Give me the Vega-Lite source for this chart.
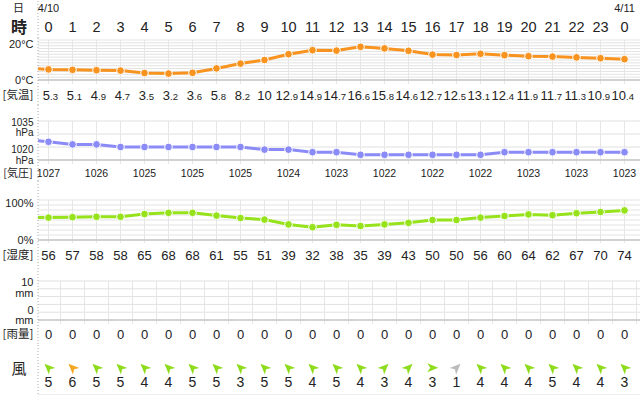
{
  "$schema": "https://vega.github.io/schema/vega-lite/v6.json",
  "padding": 0,
  "background": "white",
  "columns": 2,
  "spacing": 0,
  "bounds": "flush",
  "config": {"view": {"stroke": null}, "text": {"color": "#222", "font": "Liberation Sans"}},
  "resolve": {"scale": {"x": "independent", "y": "independent", "color": "independent"}},
  "datasets": {
    "wx": [
      {"h": -1, "temp": 6.0, "pres": 1028, "hum": 56},
      {"h": 0, "temp": 5.3, "pres": 1027, "hum": 56, "rain": 0, "wdir": 315, "wspd": 5},
      {"h": 1, "temp": 5.1, "pres": 1026, "hum": 57, "rain": 0, "wdir": 315, "wspd": 6},
      {"h": 2, "temp": 4.9, "pres": 1026, "hum": 58, "rain": 0, "wdir": 315, "wspd": 5},
      {"h": 3, "temp": 4.7, "pres": 1025, "hum": 58, "rain": 0, "wdir": 315, "wspd": 5},
      {"h": 4, "temp": 3.5, "pres": 1025, "hum": 65, "rain": 0, "wdir": 315, "wspd": 4},
      {"h": 5, "temp": 3.2, "pres": 1025, "hum": 68, "rain": 0, "wdir": 315, "wspd": 4},
      {"h": 6, "temp": 3.6, "pres": 1025, "hum": 68, "rain": 0, "wdir": 315, "wspd": 5},
      {"h": 7, "temp": 5.8, "pres": 1025, "hum": 61, "rain": 0, "wdir": 315, "wspd": 5},
      {"h": 8, "temp": 8.2, "pres": 1025, "hum": 55, "rain": 0, "wdir": 315, "wspd": 3},
      {"h": 9, "temp": 10, "pres": 1024, "hum": 51, "rain": 0, "wdir": 315, "wspd": 5},
      {"h": 10, "temp": 12.9, "pres": 1024, "hum": 39, "rain": 0, "wdir": 315, "wspd": 5},
      {"h": 11, "temp": 14.9, "pres": 1023, "hum": 32, "rain": 0, "wdir": 315, "wspd": 4},
      {"h": 12, "temp": 14.7, "pres": 1023, "hum": 38, "rain": 0, "wdir": 315, "wspd": 5},
      {"h": 13, "temp": 16.6, "pres": 1022, "hum": 35, "rain": 0, "wdir": 315, "wspd": 4},
      {"h": 14, "temp": 15.8, "pres": 1022, "hum": 39, "rain": 0, "wdir": 45, "wspd": 3},
      {"h": 15, "temp": 14.6, "pres": 1022, "hum": 43, "rain": 0, "wdir": 45, "wspd": 4},
      {"h": 16, "temp": 12.7, "pres": 1022, "hum": 50, "rain": 0, "wdir": 90, "wspd": 3},
      {"h": 17, "temp": 12.5, "pres": 1022, "hum": 50, "rain": 0, "wdir": 45, "wspd": 1},
      {"h": 18, "temp": 13.1, "pres": 1022, "hum": 56, "rain": 0, "wdir": 315, "wspd": 4},
      {"h": 19, "temp": 12.4, "pres": 1023, "hum": 60, "rain": 0, "wdir": 315, "wspd": 4},
      {"h": 20, "temp": 11.9, "pres": 1023, "hum": 64, "rain": 0, "wdir": 315, "wspd": 4},
      {"h": 21, "temp": 11.7, "pres": 1023, "hum": 62, "rain": 0, "wdir": 315, "wspd": 5},
      {"h": 22, "temp": 11.3, "pres": 1023, "hum": 67, "rain": 0, "wdir": 315, "wspd": 4},
      {"h": 23, "temp": 10.9, "pres": 1023, "hum": 70, "rain": 0, "wdir": 315, "wspd": 4},
      {"h": 24, "temp": 10.4, "pres": 1023, "hum": 74, "rain": 0, "wdir": 315, "wspd": 3}
    ],
    "dates": [{"h": 0, "d": "4/10"}, {"h": 24, "d": "4/11"}],
    "one": [{"k": 1}],
    "tgrid": [{"v": 0}, {"v": 1.4286}, {"v": 2.8571}, {"v": 4.2857}, {"v": 5.7143}, {"v": 7.1429}, {"v": 8.5714}, {"v": 10}, {"v": 11.4286}, {"v": 12.8571}, {"v": 14.2857}, {"v": 15.7143}, {"v": 17.1429}, {"v": 18.5714}, {"v": 20}],
    "pgrid": [{"v": 1020}, {"v": 1025}, {"v": 1030}, {"v": 1035}],
    "hgrid": [{"v": 0}, {"v": 12.5}, {"v": 25}, {"v": 37.5}, {"v": 50}, {"v": 62.5}, {"v": 75}, {"v": 87.5}, {"v": 100}],
    "rgrid": [{"v": 0}, {"v": 2}, {"v": 4}, {"v": 6}, {"v": 8}, {"v": 10}],
    "half": [{"h": 0.5}, {"h": 1.5}, {"h": 2.5}, {"h": 3.5}, {"h": 4.5}, {"h": 5.5}, {"h": 6.5}, {"h": 7.5}, {"h": 8.5}, {"h": 9.5}, {"h": 10.5}, {"h": 11.5}, {"h": 12.5}, {"h": 13.5}, {"h": 14.5}, {"h": 15.5}, {"h": 16.5}, {"h": 17.5}, {"h": 18.5}, {"h": 19.5}, {"h": 20.5}, {"h": 21.5}, {"h": 22.5}, {"h": 23.5}, {"h": 24.5}]
  },
  "concat": [
    {
      "width": 38, "height": 37, "data": {"name": "one"},
      "layer": [
        {"mark": {"type": "text", "text": "日", "font": "Noto Sans CJK JP", "fontSize": 11, "dy": -10.5, "dx": -0.5}, "encoding": {}},
        {"mark": {"type": "text", "text": "時", "font": "Noto Sans CJK JP", "fontSize": 16, "fontWeight": "bold", "dy": 8}, "encoding": {}}
      ]
    },
    {
      "width": 602, "height": 37,
      "layer": [
        {"data": {"name": "dates"}, "mark": {"type": "text", "fontSize": 11, "dy": -10.7},
         "encoding": {"x": {"field": "h", "type": "quantitative", "scale": {"domain": [-0.4375, 24.6458], "nice": false, "zero": false}, "axis": null}, "text": {"field": "d"}}},
        {"data": {"name": "wx"}, "transform": [{"filter": "datum.h >= 0"}, {"calculate": "toString(datum.h % 24)", "as": "lbl"}],
         "mark": {"type": "text", "fontSize": 14.5, "dy": 8.5},
         "encoding": {"x": {"field": "h", "type": "quantitative", "scale": {"domain": [-0.4375, 24.6458], "nice": false, "zero": false}, "axis": null}, "text": {"field": "lbl"}}},
        {"data": {"name": "one"}, "mark": {"type": "rule", "color": "#aaaaaa", "strokeDash": [1, 2]},
         "encoding": {"x": {"datum": -0.4375, "type": "quantitative", "scale": {"domain": [-0.4375, 24.6458], "nice": false, "zero": false}, "axis": null}}}
      ]
    },
    {
      "width": 38, "height": 67, "data": {"name": "one"},
      "layer": [
        {"mark": {"type": "text", "text": "20°C", "fontSize": 11, "align": "right", "dx": 14.5},
         "encoding": {"y": {"datum": 17.7, "type": "quantitative", "scale": {"domain": [-12.5, 21], "nice": false, "zero": false}, "axis": null}}},
        {"mark": {"type": "text", "text": "0°C", "fontSize": 11, "align": "right", "dx": 14.5},
         "encoding": {"y": {"datum": -0.4, "type": "quantitative", "scale": {"domain": [-12.5, 21], "nice": false, "zero": false}, "axis": null}}},
        {"mark": {"type": "text", "text": "[気温]", "font": "Noto Sans CJK JP", "fontSize": 11.5, "dx": -1},
         "encoding": {"y": {"datum": -8, "type": "quantitative", "scale": {"domain": [-12.5, 21], "nice": false, "zero": false}, "axis": null}}}
      ]
    },
    {
      "width": 602, "height": 67,
      "layer": [
        {"data": {"name": "tgrid"}, "mark": {"type": "rule", "color": "#e3e3e3"},
         "encoding": {"y": {"field": "v", "type": "quantitative", "scale": {"domain": [-12.5, 21], "nice": false, "zero": false}, "axis": null}}},
        {"data": {"name": "wx"}, "transform": [{"filter": "datum.h >= 0"}], "mark": {"type": "rule", "color": "#e6e6e6"},
         "encoding": {"x": {"field": "h", "type": "quantitative", "scale": {"domain": [-0.4375, 24.6458], "nice": false, "zero": false}, "axis": null},
                      "y": {"datum": 20, "type": "quantitative", "scale": {"domain": [-12.5, 21], "nice": false, "zero": false}, "axis": null}, "y2": {"datum": -2}}},
        {"data": {"name": "one"}, "mark": {"type": "rule", "color": "#b3b3b3"},
         "encoding": {"y": {"datum": 0, "type": "quantitative", "scale": {"domain": [-12.5, 21], "nice": false, "zero": false}, "axis": null}}},
        {"data": {"name": "wx"}, "mark": {"type": "line", "color": "#f7931e", "strokeWidth": 3, "clip": true},
         "encoding": {"x": {"field": "h", "type": "quantitative", "scale": {"domain": [-0.4375, 24.6458], "nice": false, "zero": false}, "axis": null},
                      "y": {"field": "temp", "type": "quantitative", "scale": {"domain": [-12.5, 21], "nice": false, "zero": false}, "axis": null}}},
        {"data": {"name": "wx"}, "transform": [{"filter": "datum.h >= 0"}],
         "mark": {"type": "point", "filled": true, "size": 60, "fill": "#f7931e", "stroke": "white", "strokeWidth": 1, "opacity": 1},
         "encoding": {"x": {"field": "h", "type": "quantitative", "scale": {"domain": [-0.4375, 24.6458], "nice": false, "zero": false}, "axis": null},
                      "y": {"field": "temp", "type": "quantitative", "scale": {"domain": [-12.5, 21], "nice": false, "zero": false}, "axis": null}}},
        {"data": {"name": "wx"}, "transform": [{"filter": "datum.h >= 0 && datum.temp != floor(datum.temp)"}, {"calculate": "toString(floor(datum.temp))", "as": "ip"}],
         "mark": {"type": "text", "align": "right", "baseline": "alphabetic", "dx": 1.5, "fontSize": 13},
         "encoding": {"x": {"field": "h", "type": "quantitative", "scale": {"domain": [-0.4375, 24.6458], "nice": false, "zero": false}, "axis": null},
                      "y": {"datum": -9.75, "type": "quantitative", "scale": {"domain": [-12.5, 21], "nice": false, "zero": false}, "axis": null}, "text": {"field": "ip"}}},
        {"data": {"name": "wx"}, "transform": [{"filter": "datum.h >= 0 && datum.temp != floor(datum.temp)"}, {"calculate": "'.' + toString(round(datum.temp * 10) % 10)", "as": "dp"}],
         "mark": {"type": "text", "align": "left", "baseline": "alphabetic", "dx": 1.5, "dy": 0.5, "fontSize": 9.5},
         "encoding": {"x": {"field": "h", "type": "quantitative", "scale": {"domain": [-0.4375, 24.6458], "nice": false, "zero": false}, "axis": null},
                      "y": {"datum": -9.75, "type": "quantitative", "scale": {"domain": [-12.5, 21], "nice": false, "zero": false}, "axis": null}, "text": {"field": "dp"}}},
        {"data": {"name": "wx"}, "transform": [{"filter": "datum.h >= 0 && datum.temp == floor(datum.temp)"}],
         "mark": {"type": "text", "baseline": "alphabetic", "fontSize": 13},
         "encoding": {"x": {"field": "h", "type": "quantitative", "scale": {"domain": [-0.4375, 24.6458], "nice": false, "zero": false}, "axis": null},
                      "y": {"datum": -9.75, "type": "quantitative", "scale": {"domain": [-12.5, 21], "nice": false, "zero": false}, "axis": null}, "text": {"field": "temp", "type": "quantitative"}}},
        {"data": {"name": "one"}, "mark": {"type": "rule", "color": "#aaaaaa", "strokeDash": [1, 2]},
         "encoding": {"x": {"datum": -0.4375, "type": "quantitative", "scale": {"domain": [-0.4375, 24.6458], "nice": false, "zero": false}, "axis": null}}}
      ]
    },
    {
      "width": 38, "height": 76, "data": {"name": "one"},
      "layer": [
        {"mark": {"type": "text", "text": "1035", "fontSize": 10, "align": "right", "dx": 14.5},
         "encoding": {"y": {"datum": 1034.4, "type": "quantitative", "scale": {"domain": [1011.923, 1041.154], "nice": false, "zero": false}, "axis": null}}},
        {"mark": {"type": "text", "text": "hPa", "fontSize": 10, "align": "right", "dx": 14.5},
         "encoding": {"y": {"datum": 1030.2, "type": "quantitative", "scale": {"domain": [1011.923, 1041.154], "nice": false, "zero": false}, "axis": null}}},
        {"mark": {"type": "text", "text": "1020", "fontSize": 10, "align": "right", "dx": 14.5},
         "encoding": {"y": {"datum": 1023.8, "type": "quantitative", "scale": {"domain": [1011.923, 1041.154], "nice": false, "zero": false}, "axis": null}}},
        {"mark": {"type": "text", "text": "hPa", "fontSize": 10, "align": "right", "dx": 14.5},
         "encoding": {"y": {"datum": 1019.7, "type": "quantitative", "scale": {"domain": [1011.923, 1041.154], "nice": false, "zero": false}, "axis": null}}},
        {"mark": {"type": "text", "text": "[気圧]", "font": "Noto Sans CJK JP", "fontSize": 11, "dx": -1},
         "encoding": {"y": {"datum": 1014.5, "type": "quantitative", "scale": {"domain": [1011.923, 1041.154], "nice": false, "zero": false}, "axis": null}}}
      ]
    },
    {
      "width": 602, "height": 76,
      "layer": [
        {"data": {"name": "pgrid"}, "mark": {"type": "rule", "color": "#e0e0e0"},
         "encoding": {"y": {"field": "v", "type": "quantitative", "scale": {"domain": [1011.923, 1041.154], "nice": false, "zero": false}, "axis": null}}},
        {"data": {"name": "wx"}, "transform": [{"filter": "datum.h >= 0"}], "mark": {"type": "rule", "color": "#e6e6e6"},
         "encoding": {"x": {"field": "h", "type": "quantitative", "scale": {"domain": [-0.4375, 24.6458], "nice": false, "zero": false}, "axis": null},
                      "y": {"datum": 1035, "type": "quantitative", "scale": {"domain": [1011.923, 1041.154], "nice": false, "zero": false}, "axis": null}, "y2": {"datum": 1018.5}}},
        {"data": {"name": "one"}, "mark": {"type": "rule", "color": "#b3b3b3"},
         "encoding": {"y": {"datum": 1020, "type": "quantitative", "scale": {"domain": [1011.923, 1041.154], "nice": false, "zero": false}, "axis": null}}},
        {"data": {"name": "wx"}, "mark": {"type": "line", "color": "#8b8bf7", "strokeWidth": 3, "clip": true},
         "encoding": {"x": {"field": "h", "type": "quantitative", "scale": {"domain": [-0.4375, 24.6458], "nice": false, "zero": false}, "axis": null},
                      "y": {"field": "pres", "type": "quantitative", "scale": {"domain": [1011.923, 1041.154], "nice": false, "zero": false}, "axis": null}}},
        {"data": {"name": "wx"}, "transform": [{"filter": "datum.h >= 0"}],
         "mark": {"type": "point", "filled": true, "size": 60, "fill": "#8b8bf7", "stroke": "white", "strokeWidth": 1, "opacity": 1},
         "encoding": {"x": {"field": "h", "type": "quantitative", "scale": {"domain": [-0.4375, 24.6458], "nice": false, "zero": false}, "axis": null},
                      "y": {"field": "pres", "type": "quantitative", "scale": {"domain": [1011.923, 1041.154], "nice": false, "zero": false}, "axis": null}}},
        {"data": {"name": "wx"}, "transform": [{"filter": "datum.h >= 0 && datum.h % 2 == 0"}],
         "mark": {"type": "text", "fontSize": 10.5},
         "encoding": {"x": {"field": "h", "type": "quantitative", "scale": {"domain": [-0.4375, 24.6458], "nice": false, "zero": false}, "axis": null},
                      "y": {"datum": 1014.73, "type": "quantitative", "scale": {"domain": [1011.923, 1041.154], "nice": false, "zero": false}, "axis": null}, "text": {"field": "pres", "type": "quantitative"}}},
        {"data": {"name": "one"}, "mark": {"type": "rule", "color": "#aaaaaa", "strokeDash": [1, 2]},
         "encoding": {"x": {"datum": -0.4375, "type": "quantitative", "scale": {"domain": [-0.4375, 24.6458], "nice": false, "zero": false}, "axis": null}}}
      ]
    },
    {
      "width": 38, "height": 84, "data": {"name": "one"},
      "layer": [
        {"mark": {"type": "text", "text": "100%", "fontSize": 11, "align": "right", "dx": 14.5},
         "encoding": {"y": {"datum": 90, "type": "quantitative", "scale": {"domain": [-62.5, 147.5], "nice": false, "zero": false}, "axis": null}}},
        {"mark": {"type": "text", "text": "0%", "fontSize": 11, "align": "right", "dx": 14.5},
         "encoding": {"y": {"datum": -2.5, "type": "quantitative", "scale": {"domain": [-62.5, 147.5], "nice": false, "zero": false}, "axis": null}}},
        {"mark": {"type": "text", "text": "[湿度]", "font": "Noto Sans CJK JP", "fontSize": 11.5, "dx": -1},
         "encoding": {"y": {"datum": -39.25, "type": "quantitative", "scale": {"domain": [-62.5, 147.5], "nice": false, "zero": false}, "axis": null}}}
      ]
    },
    {
      "width": 602, "height": 84,
      "layer": [
        {"data": {"name": "hgrid"}, "mark": {"type": "rule", "color": "#e3e3e3"},
         "encoding": {"y": {"field": "v", "type": "quantitative", "scale": {"domain": [-62.5, 147.5], "nice": false, "zero": false}, "axis": null}}},
        {"data": {"name": "wx"}, "transform": [{"filter": "datum.h >= 0"}], "mark": {"type": "rule", "color": "#e6e6e6"},
         "encoding": {"x": {"field": "h", "type": "quantitative", "scale": {"domain": [-0.4375, 24.6458], "nice": false, "zero": false}, "axis": null},
                      "y": {"datum": 100, "type": "quantitative", "scale": {"domain": [-62.5, 147.5], "nice": false, "zero": false}, "axis": null}, "y2": {"datum": -8}}},
        {"data": {"name": "one"}, "mark": {"type": "rule", "color": "#b3b3b3"},
         "encoding": {"y": {"datum": 0, "type": "quantitative", "scale": {"domain": [-62.5, 147.5], "nice": false, "zero": false}, "axis": null}}},
        {"data": {"name": "wx"}, "mark": {"type": "line", "color": "#96e21b", "strokeWidth": 3, "clip": true},
         "encoding": {"x": {"field": "h", "type": "quantitative", "scale": {"domain": [-0.4375, 24.6458], "nice": false, "zero": false}, "axis": null},
                      "y": {"field": "hum", "type": "quantitative", "scale": {"domain": [-62.5, 147.5], "nice": false, "zero": false}, "axis": null}}},
        {"data": {"name": "wx"}, "transform": [{"filter": "datum.h >= 0"}],
         "mark": {"type": "point", "filled": true, "size": 60, "fill": "#96e21b", "stroke": "white", "strokeWidth": 1, "opacity": 1},
         "encoding": {"x": {"field": "h", "type": "quantitative", "scale": {"domain": [-0.4375, 24.6458], "nice": false, "zero": false}, "axis": null},
                      "y": {"field": "hum", "type": "quantitative", "scale": {"domain": [-62.5, 147.5], "nice": false, "zero": false}, "axis": null}}},
        {"data": {"name": "wx"}, "transform": [{"filter": "datum.h >= 0"}],
         "mark": {"type": "text", "fontSize": 13},
         "encoding": {"x": {"field": "h", "type": "quantitative", "scale": {"domain": [-0.4375, 24.6458], "nice": false, "zero": false}, "axis": null},
                      "y": {"datum": -39.25, "type": "quantitative", "scale": {"domain": [-62.5, 147.5], "nice": false, "zero": false}, "axis": null}, "text": {"field": "hum", "type": "quantitative"}}},
        {"data": {"name": "one"}, "mark": {"type": "rule", "color": "#aaaaaa", "strokeDash": [1, 2]},
         "encoding": {"x": {"datum": -0.4375, "type": "quantitative", "scale": {"domain": [-0.4375, 24.6458], "nice": false, "zero": false}, "axis": null}}}
      ]
    },
    {
      "width": 38, "height": 80, "data": {"name": "one"},
      "layer": [
        {"mark": {"type": "text", "text": "10", "fontSize": 11, "align": "right", "dx": 14.5},
         "encoding": {"y": {"datum": 9.49, "type": "quantitative", "scale": {"domain": [-6.41, 14.103], "nice": false, "zero": false}, "axis": null}}},
        {"mark": {"type": "text", "text": "mm", "fontSize": 11, "align": "right", "dx": 14.5},
         "encoding": {"y": {"datum": 6.59, "type": "quantitative", "scale": {"domain": [-6.41, 14.103], "nice": false, "zero": false}, "axis": null}}},
        {"mark": {"type": "text", "text": "0", "fontSize": 11, "align": "right", "dx": 14.5},
         "encoding": {"y": {"datum": 2.31, "type": "quantitative", "scale": {"domain": [-6.41, 14.103], "nice": false, "zero": false}, "axis": null}}},
        {"mark": {"type": "text", "text": "mm", "fontSize": 11, "align": "right", "dx": 14.5},
         "encoding": {"y": {"datum": -0.38, "type": "quantitative", "scale": {"domain": [-6.41, 14.103], "nice": false, "zero": false}, "axis": null}}},
        {"mark": {"type": "text", "text": "[雨量]", "font": "Noto Sans CJK JP", "fontSize": 11.5, "dx": -1},
         "encoding": {"y": {"datum": -3.97, "type": "quantitative", "scale": {"domain": [-6.41, 14.103], "nice": false, "zero": false}, "axis": null}}}
      ]
    },
    {
      "width": 602, "height": 80,
      "layer": [
        {"data": {"name": "rgrid"}, "mark": {"type": "rule", "color": "#e0e0e0"},
         "encoding": {"y": {"field": "v", "type": "quantitative", "scale": {"domain": [-6.41, 14.103], "nice": false, "zero": false}, "axis": null}}},
        {"data": {"name": "half"}, "mark": {"type": "rule", "color": "#e6e6e6"},
         "encoding": {"x": {"field": "h", "type": "quantitative", "scale": {"domain": [-0.4375, 24.6458], "nice": false, "zero": false}, "axis": null},
                      "y": {"datum": 10, "type": "quantitative", "scale": {"domain": [-6.41, 14.103], "nice": false, "zero": false}, "axis": null}, "y2": {"datum": -1}}},
        {"data": {"name": "one"}, "mark": {"type": "rule", "color": "#b3b3b3"},
         "encoding": {"y": {"datum": 0, "type": "quantitative", "scale": {"domain": [-6.41, 14.103], "nice": false, "zero": false}, "axis": null}}},
        {"data": {"name": "wx"}, "transform": [{"filter": "datum.h >= 0"}],
         "mark": {"type": "tick", "orient": "horizontal", "size": 12, "thickness": 2, "color": "#d6d6d6", "opacity": 1},
         "encoding": {"x": {"field": "h", "type": "quantitative", "scale": {"domain": [-0.4375, 24.6458], "nice": false, "zero": false}, "axis": null},
                      "y": {"field": "rain", "type": "quantitative", "scale": {"domain": [-6.41, 14.103], "nice": false, "zero": false}, "axis": null}}},
        {"data": {"name": "wx"}, "transform": [{"filter": "datum.h >= 0"}],
         "mark": {"type": "text", "fontSize": 13},
         "encoding": {"x": {"field": "h", "type": "quantitative", "scale": {"domain": [-0.4375, 24.6458], "nice": false, "zero": false}, "axis": null},
                      "y": {"datum": -3.85, "type": "quantitative", "scale": {"domain": [-6.41, 14.103], "nice": false, "zero": false}, "axis": null}, "text": {"field": "rain", "type": "quantitative"}}},
        {"data": {"name": "one"}, "mark": {"type": "rule", "color": "#aaaaaa", "strokeDash": [1, 2]},
         "encoding": {"x": {"datum": -0.4375, "type": "quantitative", "scale": {"domain": [-0.4375, 24.6458], "nice": false, "zero": false}, "axis": null}}}
      ]
    },
    {
      "width": 38, "height": 51, "data": {"name": "one"},
      "layer": [
        {"mark": {"type": "text", "text": "風", "font": "Noto Sans CJK JP", "fontSize": 15},
         "encoding": {"y": {"datum": 27, "type": "quantitative", "scale": {"domain": [0, 51], "nice": false, "zero": false}, "axis": null}}}
      ]
    },
    {
      "width": 602, "height": 51,
      "layer": [
        {"data": {"name": "one"}, "mark": {"type": "rule", "color": "#dddddd"},
         "encoding": {"y": {"datum": 1, "type": "quantitative", "scale": {"domain": [0, 51], "nice": false, "zero": false}, "axis": null}}},
        {"data": {"name": "wx"}, "transform": [{"filter": "datum.h >= 0"}],
         "mark": {"type": "point", "filled": true, "size": 130, "opacity": 1, "shape": "M0,-1L0.8,0.9L0,0.4L-0.8,0.9Z"},
         "encoding": {"x": {"field": "h", "type": "quantitative", "scale": {"domain": [-0.4375, 24.6458], "nice": false, "zero": false}, "axis": null},
                      "y": {"datum": 28.3, "type": "quantitative", "scale": {"domain": [0, 51], "nice": false, "zero": false}, "axis": null},
                      "angle": {"field": "wdir", "type": "quantitative", "scale": null},
                      "color": {"field": "wspd", "type": "quantitative", "scale": {"type": "threshold", "domain": [2, 6], "range": ["#bbbbbb", "#8fdc1e", "#f5a623"]}, "legend": null}}},
        {"data": {"name": "wx"}, "transform": [{"filter": "datum.h >= 0"}],
         "mark": {"type": "text", "fontSize": 14},
         "encoding": {"x": {"field": "h", "type": "quantitative", "scale": {"domain": [-0.4375, 24.6458], "nice": false, "zero": false}, "axis": null},
                      "y": {"datum": 13, "type": "quantitative", "scale": {"domain": [0, 51], "nice": false, "zero": false}, "axis": null}, "text": {"field": "wspd", "type": "quantitative"}}},
        {"data": {"name": "one"}, "mark": {"type": "rule", "color": "#aaaaaa", "strokeDash": [1, 2]},
         "encoding": {"x": {"datum": -0.4375, "type": "quantitative", "scale": {"domain": [-0.4375, 24.6458], "nice": false, "zero": false}, "axis": null}}}
      ]
    }
  ]
}
